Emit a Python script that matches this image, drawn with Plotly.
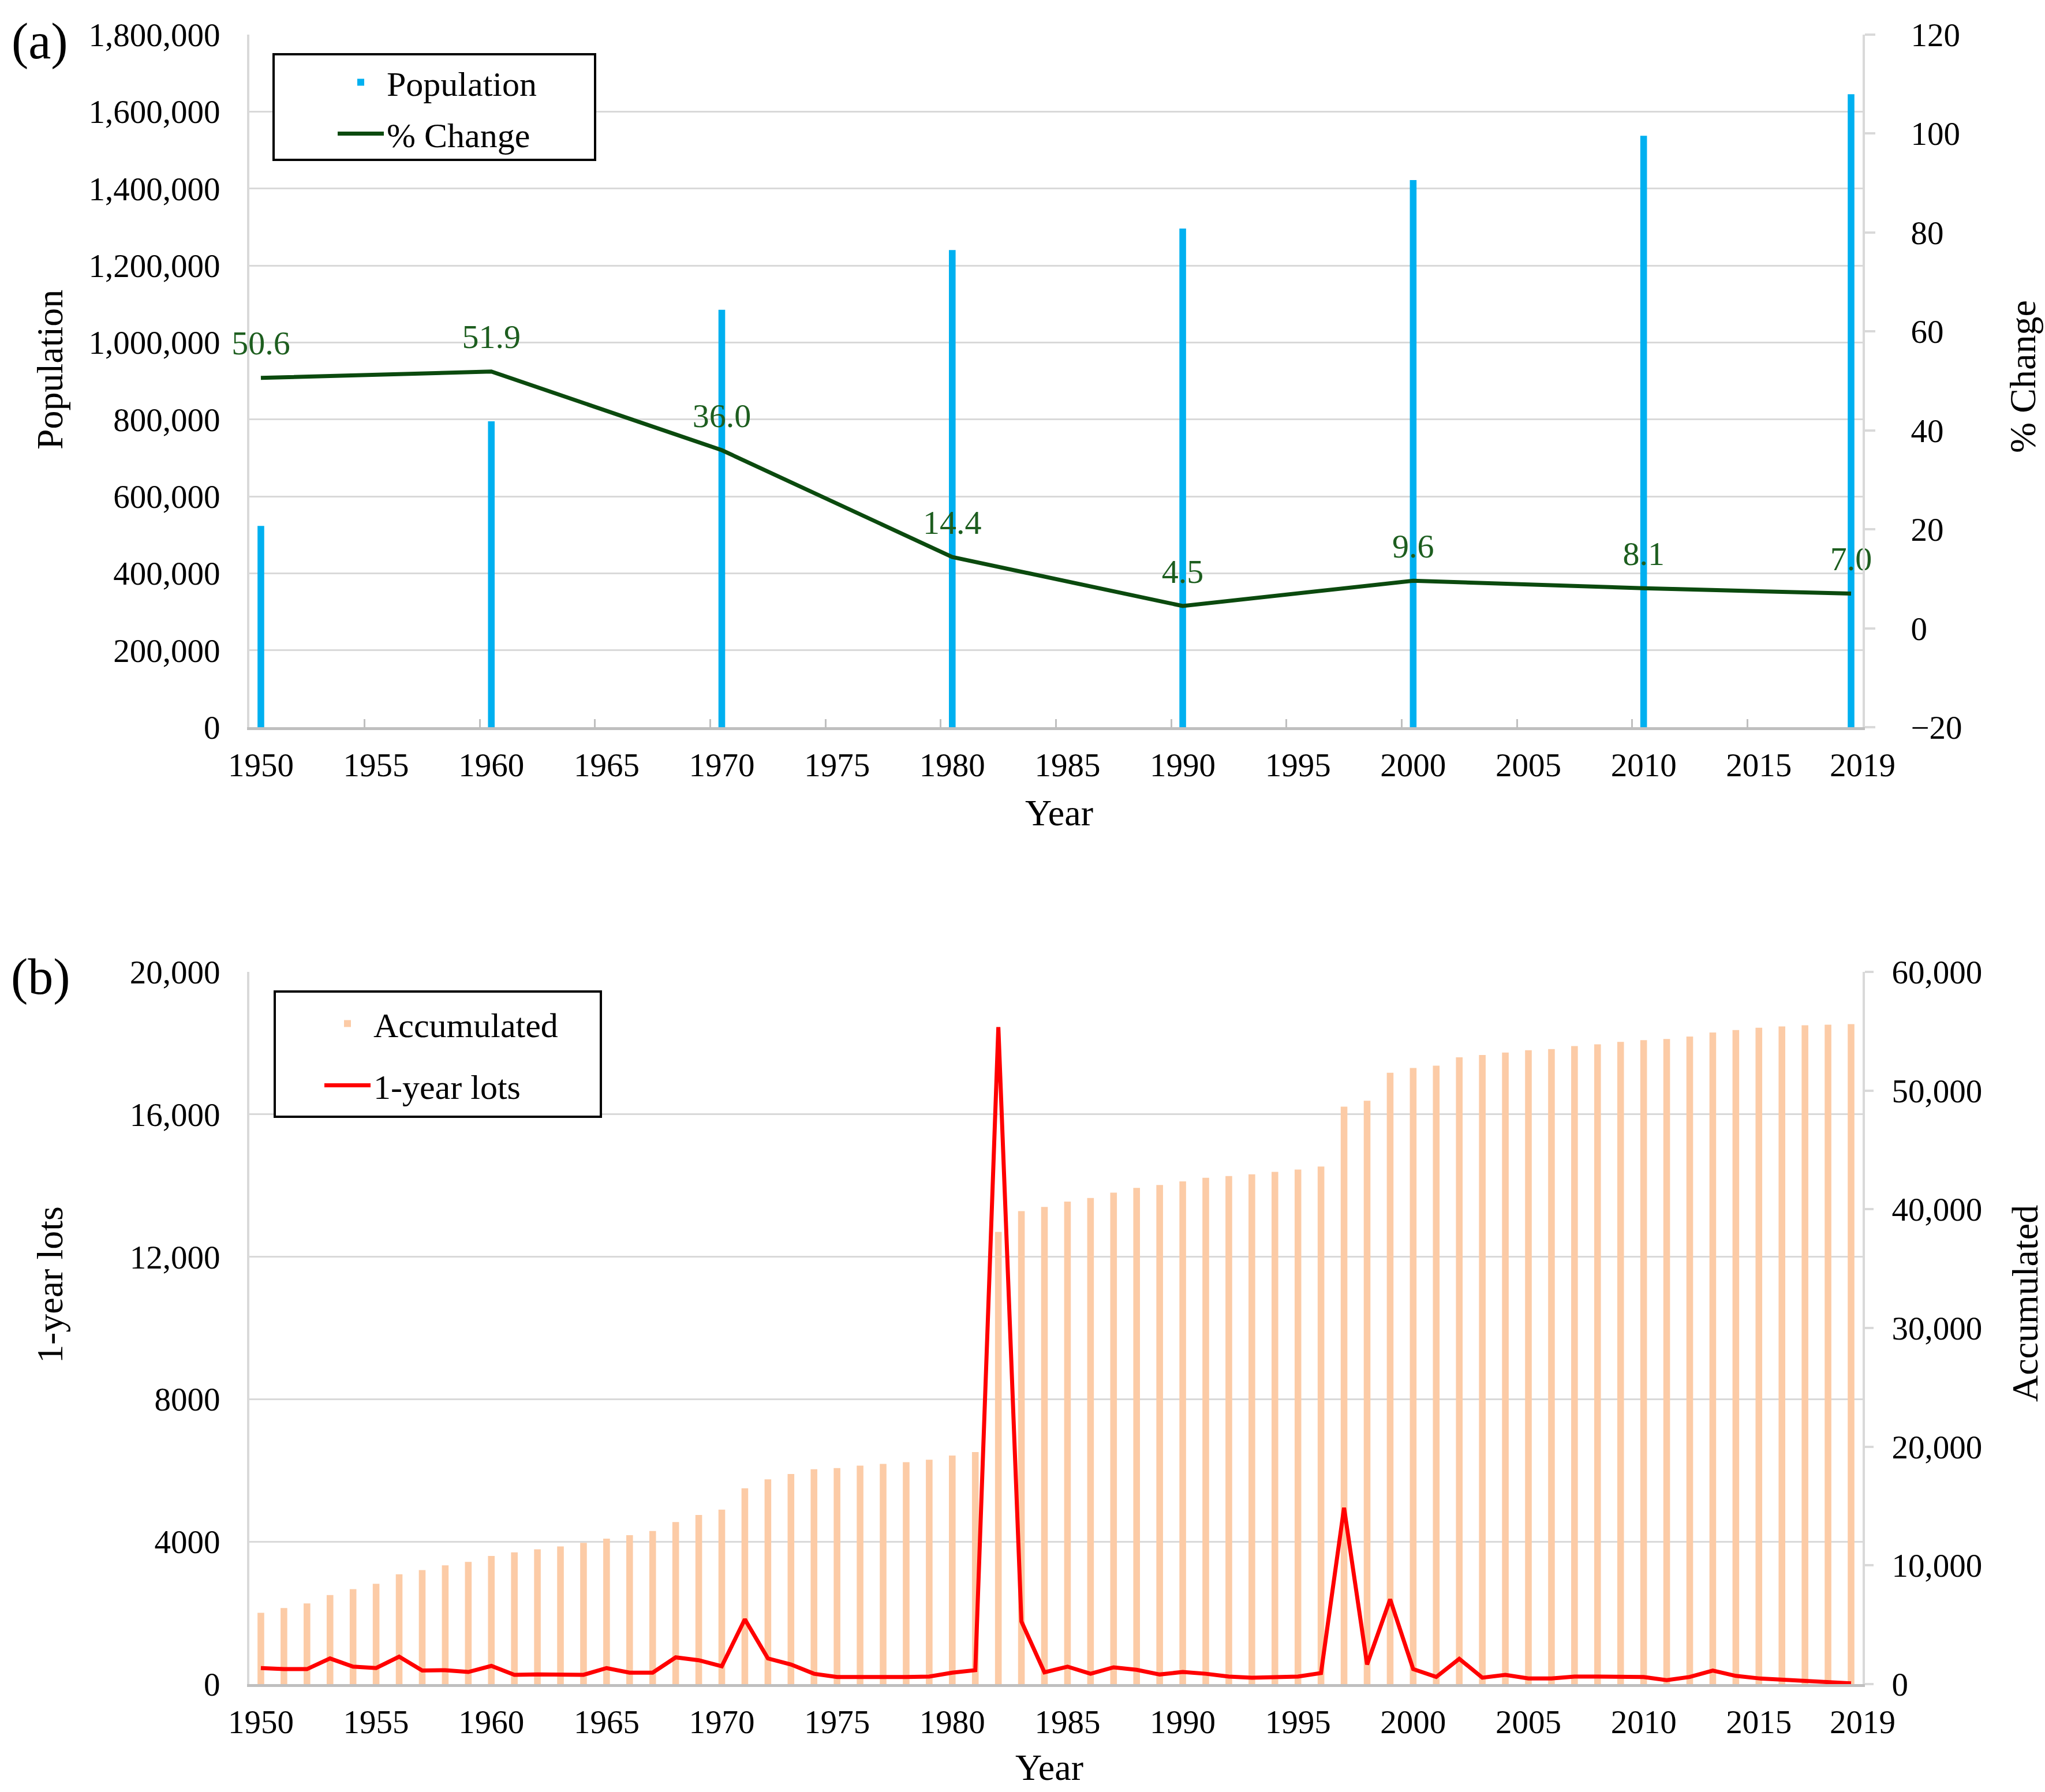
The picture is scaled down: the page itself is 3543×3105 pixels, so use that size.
import plotly.graph_objects as go

# ---------------- data ----------------
# Panel (a): census population and % change
census_years = [1950, 1960, 1970, 1980, 1990, 2000, 2010, 2019]
population = [523000, 795000, 1085000, 1240000, 1296000, 1422000, 1537000, 1645000]
pct_change = [50.6, 51.9, 36.0, 14.4, 4.5, 9.6, 8.1, 7.0]

# Panel (b): yearly lots and accumulated lots
lot_years = list(range(1950, 2020))
one_year_lots = [
    450, 420, 420, 720, 490, 450, 770, 380, 390, 340,      # 1950-1959
    510, 260, 270, 260, 260, 450, 320, 320, 750, 670,      # 1960-1969
    500, 1820, 720, 550, 290, 200, 200, 180, 200, 210,     # 1970-1979
    320, 390, 18450, 1760, 330, 490, 290, 470, 400, 270,   # 1980-1989
    340, 290, 210, 180, 200, 210, 310, 4950, 550, 2380,    # 1990-1999
    420, 200, 710, 180, 260, 160, 160, 210, 210, 200,      # 2000-2009
    200, 110, 200, 380, 230, 160, 130, 90, 70, 20,         # 2010-2019
]
accumulated = [
    6000, 6400, 6800, 7500, 8000, 8450, 9250, 9600, 10000, 10300,          # 1950-1959
    10800, 11100, 11350, 11600, 11900, 12250, 12550, 12900, 13650, 14250,  # 1960-1969
    14700, 16500, 17250, 17700, 18100, 18200, 18400, 18550, 18700, 18900,  # 1970-1979
    19250, 19550, 38100, 39850, 40200, 40650, 40950, 41400, 41800, 42050,  # 1980-1989
    42350, 42650, 42800, 42950, 43150, 43350, 43600, 48650, 49150, 51500,  # 1990-1999
    51900, 52100, 52800, 53000, 53200, 53400, 53500, 53750, 53900, 54100,  # 2000-2009
    54250, 54350, 54550, 54900, 55100, 55300, 55400, 55500, 55550, 55600,  # 2010-2019
]

# tick labels
year_ticks = [1950, 1955, 1960, 1965, 1970, 1975, 1980, 1985, 1990, 1995,
              2000, 2005, 2010, 2015, 2019]
lots_tick_vals = [0, 4000, 8000, 12000, 16000, 20000]
lots_tick_text = ["0", "4000", "8000", "12,000", "16,000", "20,000"]

# ---------------- layout helpers ----------------
W, H = 3543, 3105
FONT = "Liberation Serif, Times New Roman, serif"
GRID = "#D9D9D9"
AXIS = "#BFBFBF"
GREEN = "#0B4A0E"
GREEN_TXT = "#1D5E1F"
BLUE = "#00B0F0"
PEACH = "#FCCBA6"
RED = "#FF0000"


def px(x):
    return x / W


def py(y):
    return 1 - y / H


xdom = [px(432), px(3227)]
ydom_a = [py(1260), py(60)]
ydom_b = [py(2918), py(1684)]
xrange_ = [1949.5, 2019.501]

# label "2019" sits at the right end of the axis; others at category centres
tick_pos = [y if y % 5 == 0 else 2019.5 for y in year_ticks]
tick_txt = [str(y) for y in year_ticks]
minor_pos = [y - 0.5 for y in year_ticks[1:-1]]

fig = go.Figure()

fig.add_trace(go.Bar(
    x=census_years, y=population, name="Population",
    marker=dict(color=BLUE, line=dict(width=0)), width=0.29,
    xaxis="x", yaxis="y", legend="legend", legendgroup="pop",
))
fig.add_trace(go.Scatter(
    x=census_years, y=pct_change, name="% Change",
    mode="lines+markers+text",
    line=dict(color=GREEN, width=7),
    marker=dict(size=40, color="rgba(0,0,0,0)"),
    texttemplate="%{y:.1f}", textposition="top center",
    textfont=dict(size=58, color=GREEN_TXT, family=FONT),
    cliponaxis=False,
    xaxis="x", yaxis="y2", legend="legend", legendgroup="chg",
))
fig.add_trace(go.Bar(
    x=lot_years, y=accumulated, name="Accumulated",
    marker=dict(color=PEACH, line=dict(width=0)), width=0.29,
    xaxis="x2", yaxis="y3", legend="legend2", legendgroup="acc",
))
fig.add_trace(go.Scatter(
    x=lot_years, y=one_year_lots, name="1-year lots", mode="lines",
    line=dict(color=RED, width=7),
    xaxis="x2", yaxis="y4", legend="legend2", legendgroup="lots",
))

common_x = dict(
    domain=xdom, range=xrange_, tickmode="array", tickvals=tick_pos,
    ticktext=tick_txt, ticks="", showline=True, linecolor=AXIS, linewidth=5,
    showgrid=False, zeroline=False, tickfont=dict(size=57),
    ticklabelstandoff=12, automargin=False,
)

fig.update_layout(
    template="none",
    width=W, height=H,
    margin=dict(l=0, r=0, t=0, b=0, pad=0, autoexpand=False),
    paper_bgcolor="white", plot_bgcolor="white",
    font=dict(family=FONT, size=57, color="black"),
    showlegend=True,
    xaxis=dict(
        **common_x, anchor="y",
        minor=dict(tickmode="array", tickvals=minor_pos, ticks="inside",
                   ticklen=14, tickwidth=3, tickcolor=AXIS, showgrid=False),
    ),
    yaxis=dict(
        domain=ydom_a, anchor="x", range=[0, 1800000], tick0=0, dtick=200000,
        tickformat=",", showgrid=True, gridcolor=GRID, gridwidth=3,
        showline=True, linecolor=GRID, linewidth=4, zeroline=False,
        ticks="", ticklabelstandoff=35, tickfont=dict(size=57), automargin=False,
    ),
    yaxis2=dict(
        overlaying="y", side="right", anchor="x", range=[-20, 120],
        tick0=0, dtick=20, showgrid=False, zeroline=False,
        showline=True, linecolor=GRID, linewidth=4,
        ticks="outside", ticklen=18, tickwidth=4, tickcolor=GRID,
        ticklabelstandoff=50, tickfont=dict(size=57), automargin=False,
    ),
    xaxis2=dict(**common_x, anchor="y3"),
    yaxis3=dict(
        domain=ydom_b, anchor="x2", side="right", range=[0, 60000],
        tick0=0, dtick=10000, tickformat=",", showgrid=False, zeroline=False,
        showline=True, linecolor=GRID, linewidth=4,
        ticks="outside", ticklen=15, tickwidth=4, tickcolor=GRID,
        ticklabelstandoff=20, tickfont=dict(size=57), automargin=False,
    ),
    yaxis4=dict(
        overlaying="y3", side="left", anchor="x2", range=[0, 20000],
        tickmode="array", tickvals=lots_tick_vals, ticktext=lots_tick_text,
        showgrid=True, gridcolor=GRID, gridwidth=3, zeroline=False,
        showline=True, linecolor=GRID, linewidth=4,
        ticks="", ticklabelstandoff=35, tickfont=dict(size=57), automargin=False,
    ),
    legend=dict(
        x=px(580), y=py(97), xanchor="left", yanchor="top",
        bgcolor="rgba(0,0,0,0)", borderwidth=0,
        font=dict(size=60, family=FONT, color="black"),
        itemwidth=80, tracegroupgap=8, traceorder="grouped",
    ),
    legend2=dict(
        x=px(557), y=py(1728), xanchor="left", yanchor="top",
        bgcolor="rgba(0,0,0,0)", borderwidth=0,
        font=dict(size=60, family=FONT, color="black"),
        itemwidth=80, tracegroupgap=26, traceorder="grouped",
    ),
)

# legend frames
for (x0, y0, x1, y1) in [(474, 94, 1031, 277), (476, 1718, 1041, 1935)]:
    fig.add_shape(type="rect", xref="paper", yref="paper",
                  x0=px(x0), x1=px(x1), y0=py(y1), y1=py(y0),
                  line=dict(color="black", width=4), fillcolor="white",
                  layer="above")

# titles and panel labels
annots = [
    ("Population", 86, 641, -90, 64),
    ("Year", 1835, 1408, 0, 64),
    ("% Change", 3504, 653, -90, 64),
    ("1-year lots", 86, 2226, -90, 64),
    ("Year", 1818, 3062, 0, 64),
    ("Accumulated", 3508, 2259, -90, 64),
    ("(a)", 69, 71, 0, 88),
    ("(b)", 70, 1693, 0, 88),
]
for text, x, y, ang, size in annots:
    fig.add_annotation(text=text, xref="paper", yref="paper", x=px(x), y=py(y),
                       xanchor="center", yanchor="middle", textangle=ang,
                       showarrow=False, font=dict(size=size, family=FONT, color="black"))

fig.write_html("out.html")
